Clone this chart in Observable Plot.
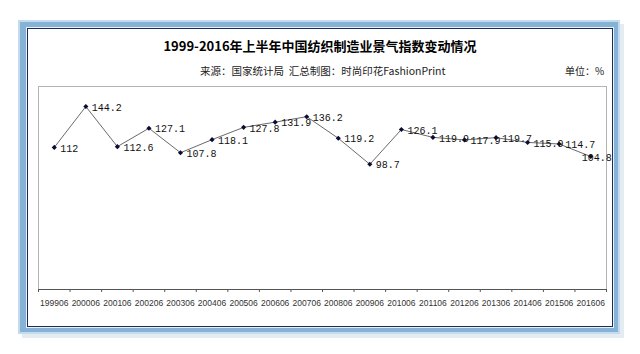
<!DOCTYPE html>
<html>
<head>
<meta charset="utf-8">
<script src="https://cdn.jsdelivr.net/npm/d3@7"></script>
<script src="https://cdn.jsdelivr.net/npm/@observablehq/plot@0.6"></script>
<style>
  html, body { margin: 0; padding: 0; background: #fff; }
  #page { position: relative; width: 640px; height: 354px; overflow: hidden; background: #fff; }
  #shadow { position: absolute; left: 22px; top: 24px; width: 602px; height: 314px; background: #e4ebf1; }
  #outer { position: absolute; left: 18px; top: 20px; width: 598px; height: 310px;
           background: #86b2d6; border: 2px solid #c3dbee; }
  #inner { position: absolute; left: 7px; top: 6px; right: 5px; bottom: 5px;
           background: #fff; border: 1px solid #1c2d5c; box-shadow: 0 0 0 1px #e8f1f9; }
  #title { position: absolute; left: 0; width: 640px; top: 36px; text-align: center;
           font-family: "Noto Sans CJK SC", sans-serif; font-weight: bold; font-size: 13px; color: #000; }
  #sub { position: absolute; left: 200px; top: 63px;
         font-family: "Noto Sans CJK SC", sans-serif; font-size: 10.5px; color: #222; white-space: nowrap; }
  #unit { position: absolute; left: 565px; top: 63px;
          font-family: "Noto Sans CJK SC", sans-serif; font-size: 10px; color: #222; white-space: nowrap; }
  #chart { position: absolute; left: 0; top: 0; }
  #chart svg { background: transparent !important; }
</style>
</head>
<body>
<div id="page">
  <div id="shadow"></div>
  <div id="outer"><div id="inner"></div></div>
  <div id="title">1999-2016年上半年中国纺织制造业景气指数变动情况</div>
  <div id="sub">来源：国家统计局&nbsp;&nbsp;汇总制图：时尚印花FashionPrint</div>
  <div id="unit">单位：%</div>
  <div id="chart"></div>
</div>
<script>
const periods = ["199906","200006","200106","200206","200306","200406","200506","200606","200706",
                 "200806","200906","201006","201106","201206","201306","201406","201506","201606"];
const values = [112, 144.2, 112.6, 127.1, 107.8, 118.1, 127.8, 131.9, 136.2,
                119.2, 98.7, 126.1, 119.9, 117.9, 119.7, 115.9, 114.7, 104.8];

const data = periods.map((p, i) => ({period: p, idx: i + 0.5, value: values[i]}));
const n = periods.length;
const boundaries = d3.range(n + 1);
const centers = d3.range(n).map(i => i + 0.5);
const last = data[n - 1];

const chart = Plot.plot({
  width: 640,
  height: 354,
  marginLeft: 38,
  marginRight: 34,
  marginTop: 86,
  marginBottom: 65,
  style: {background: "transparent"},
  x: {type: "linear", domain: [0, n], label: null},
  y: {domain: [0, 160], axis: null},
  marks: [
    Plot.frame({stroke: "#b4b4b4"}),
    Plot.ruleY([0], {stroke: "#555"}),
    Plot.axisX(boundaries, {tickSize: 3, stroke: "#555", tickFormat: () => "", label: null}),
    Plot.axisX(centers, {tickSize: 0, tickPadding: 10, tickFormat: d => periods[Math.round(d - 0.5)], label: null,
                         fontSize: 8.5, fontFamily: "Liberation Sans, Arial, sans-serif", fill: "#333"}),
    Plot.line(data, {x: "idx", y: "value", stroke: "#6a6a6a", strokeWidth: 1}),
    Plot.dot(data, {x: "idx", y: "value", symbol: "diamond2", r: 2.3, fill: "#0b0b33", stroke: "none"}),
    Plot.text(data.slice(0, n - 1), {x: "idx", y: "value", text: d => String(d.value), dx: 6, dy: 1,
      textAnchor: "start", fontSize: 10, fontFamily: "Liberation Mono, DejaVu Sans Mono, monospace", fill: "#111"}),
    Plot.text([last], {x: "idx", y: "value", text: d => String(d.value), dx: -9, dy: 1,
      textAnchor: "start", fontSize: 10, fontFamily: "Liberation Mono, DejaVu Sans Mono, monospace", fill: "#111"})
  ]
});
document.getElementById("chart").appendChild(chart);
</script>
</body>
</html>
